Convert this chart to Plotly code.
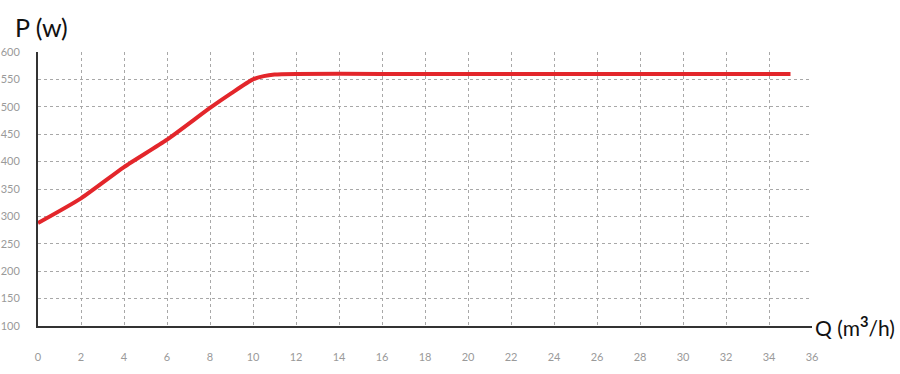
import plotly.graph_objects as go

# Data
flow_q = [0, 2, 4, 6, 8, 9, 10, 10.5, 11, 12, 16, 20, 24, 28, 32, 35]
power_p = [288, 333, 390, 440, 498, 525, 550, 556, 559, 560, 560, 560, 560, 560, 560, 560]
x_ticks = list(range(0, 37, 2))
y_ticks = list(range(100, 601, 50))

FONT = "Lato, Liberation Sans, sans-serif"

fig = go.Figure()
fig.add_trace(go.Scatter(
    x=flow_q, y=power_p, mode="lines",
    line=dict(color="#e3262b", width=4, shape="spline", smoothing=0.6),
    showlegend=False, hoverinfo="skip",
))

tick_font = dict(family=FONT, size=11, color="#9a9a9a")
fig.update_layout(
    width=900, height=374,
    margin=dict(l=38, r=88, t=52, b=48),
    paper_bgcolor="white", plot_bgcolor="white",
    xaxis=dict(
        range=[0, 36], tickvals=x_ticks, ticktext=[str(v) for v in x_ticks],
        showgrid=True, gridcolor="#a8a8a8", griddash="3px,3px", gridwidth=1,
        showline=True, linecolor="#333333", linewidth=2,
        zeroline=False, ticks="", tickfont=tick_font, ticklabelstandoff=20,
        automargin=False,
    ),
    yaxis=dict(
        range=[100, 600], tickvals=y_ticks, ticktext=[str(v) for v in y_ticks],
        showgrid=True, gridcolor="#a8a8a8", griddash="3px,3px", gridwidth=1,
        showline=True, linecolor="#333333", linewidth=2,
        zeroline=False, ticks="", tickfont=tick_font, ticklabelstandoff=14,
        automargin=False,
    ),
    font=dict(family=FONT),
    annotations=[
        dict(text="P (w)", xref="paper", yref="paper", x=-0.032, y=1.0, yshift=8,
             xanchor="left", yanchor="bottom", showarrow=False,
             font=dict(family=FONT, size=25, color="#111111")),
        dict(text="Q (m<sup><b>3</b></sup>/h)", xref="paper", yref="paper", x=1.0, y=0.0, xshift=1,
             xanchor="left", yanchor="middle", showarrow=False,
             font=dict(family=FONT, size=21, color="#111111")),
    ],
)

fig.write_html("out.html", config={"displayModeBar": False},
               post_script="document.body.style.margin='0px';")
